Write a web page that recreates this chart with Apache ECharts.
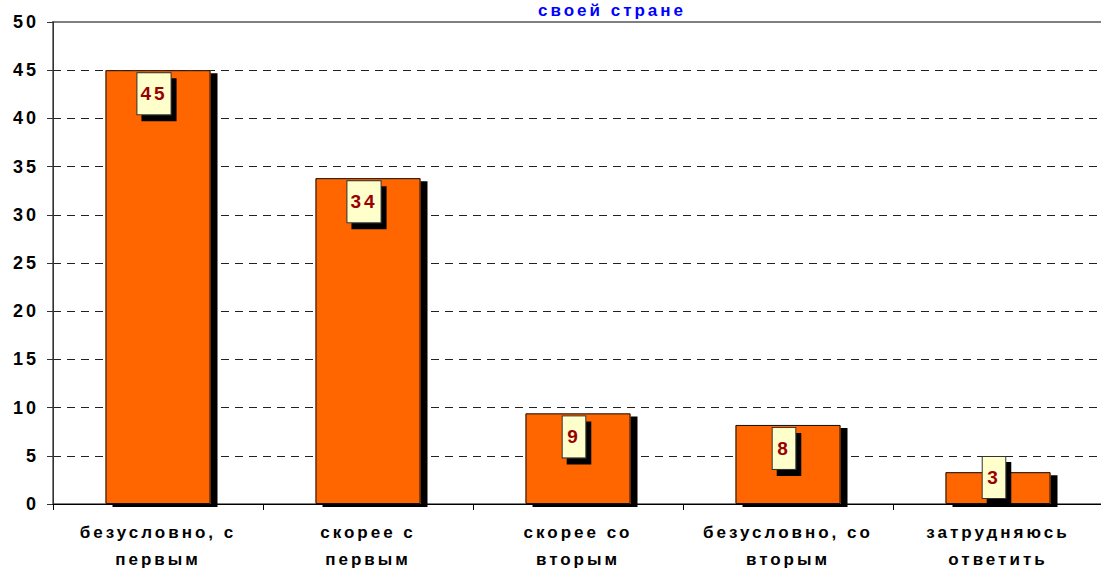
<!DOCTYPE html>
<html>
<head>
<meta charset="utf-8">
<script src="https://cdn.jsdelivr.net/npm/echarts@6/dist/echarts.min.js"></script>
<style>
  html, body { margin: 0; padding: 0; background: #fff; }
  #main { width: 1101px; height: 570px; }
  /* the original has wide letter spacing on all text */
  #main text { letter-spacing: 3px; }
</style>
</head>
<body>
<div id="main"></div>
<script>
var categories = ['безусловно, с\nпервым', 'скорее с\nпервым', 'скорее со\nвторым', 'безусловно, со\nвторым', 'затрудняюсь\nответить'];
var values = [45, 33.8, 9.4, 8.2, 3.3];
var yTicks = [0, 50, 5];

var chart = echarts.init(document.getElementById('main'), null, { renderer: 'svg' });

var font = 'Liberation Sans, Arial, sans-serif';

var option = {
  animation: false,
  title: {
    text: 'своей стране',
    left: 533,
    top: -3,
    textStyle: {
      color: '#0000FF',
      fontFamily: font,
      fontWeight: 'bold',
      fontSize: 17
    }
  },
  grid: {
    left: 53,
    right: -2,
    top: 22,
    bottom: 66,
    outerBoundsMode: 'none',
    show: true,
    borderColor: '#808080',
    borderWidth: 2
  },
  xAxis: {
    type: 'category',
    data: categories,
    z: 5,
    axisLine: { lineStyle: { color: '#000', width: 1 } },
    axisTick: { show: true, length: 6, lineStyle: { color: '#000' } },
    axisLabel: {
      color: '#000',
      fontFamily: font,
      fontWeight: 'bold',
      fontSize: 17,
      lineHeight: 27,
      margin: 15,
      interval: 0
    }
  },
  yAxis: {
    type: 'value',
    min: yTicks[0],
    max: yTicks[1],
    interval: yTicks[2],
    axisLine: { show: true, lineStyle: { color: '#333', width: 1 } },
    axisTick: { show: true, length: 6, lineStyle: { color: '#333' } },
    axisLabel: {
      color: '#000',
      fontFamily: font,
      fontWeight: 'bold',
      fontSize: 18,
      margin: 14
    },
    splitLine: {
      show: true,
      showMaxLine: false,
      lineStyle: { color: '#222', type: [8, 6], width: 1 }
    }
  },
  series: [
    {
      // orange fill with the hard black drop shadow
      type: 'bar',
      barWidth: '50%',
      data: values,
      itemStyle: {
        color: '#FF6600',
        borderWidth: 0,
        shadowColor: '#000',
        shadowBlur: 0,
        shadowOffsetX: 7,
        shadowOffsetY: 3
      },
      silent: true
    },
    {
      // outline + value boxes on top
      type: 'bar',
      barWidth: '50%',
      barGap: '-100%',
      data: values.map(function (v, i) {
        // last bar is too short for the box, so it sits on the bottom
        if (i === values.length - 1) {
          return { value: v, label: { position: 'insideBottom', distance: 6 } };
        }
        return v;
      }),
      itemStyle: {
        color: 'rgba(0,0,0,0)',
        borderColor: '#111',
        borderWidth: 1
      },
      label: {
        show: true,
        position: 'insideTop',
        distance: 3,
        offset: [-4, 0],
        formatter: function (p) { return Math.round(p.value); },
        color: '#990000',
        fontFamily: font,
        fontWeight: 'bold',
        fontSize: 19,
        lineHeight: 21,
        backgroundColor: '#FFFFCC',
        borderColor: '#333',
        borderWidth: 1,
        padding: [10, 6],
        shadowColor: '#000',
        shadowBlur: 0,
        shadowOffsetX: 5,
        shadowOffsetY: 6
      }
    }
  ]
};

chart.setOption(option);
</script>
</body>
</html>
